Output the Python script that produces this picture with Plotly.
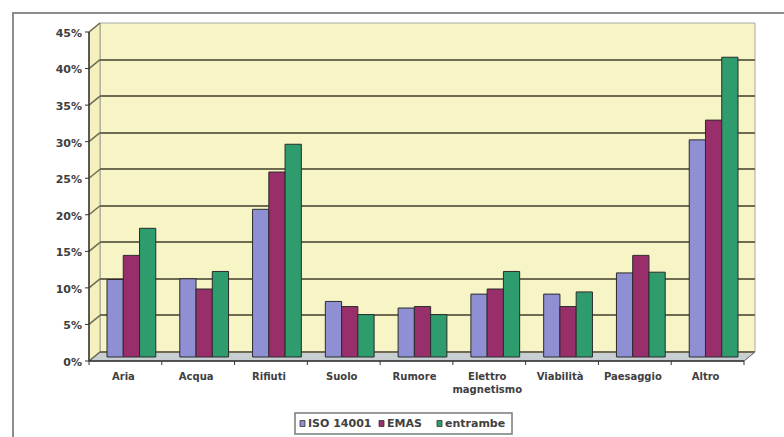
import plotly.graph_objects as go

# Environmental aspects and the share of organisations for each certification
categories = ["Aria", "Acqua", "Rifiuti", "Suolo", "Rumore",
              "Elettro<br>magnetismo", "Viabilità", "Paesaggio", "Altro"]
iso_14001 = [10.6, 10.7, 20.2, 7.6, 6.7, 8.6, 8.6, 11.5, 29.7]
emas = [13.9, 9.3, 25.3, 6.9, 6.9, 9.3, 6.9, 13.9, 32.4]
entrambe = [17.6, 11.7, 29.1, 5.8, 5.8, 11.7, 8.9, 11.6, 41.0]
series_names = ["ISO 14001", "EMAS", "entrambe"]
y_ticks = [0, 5, 10, 15, 20, 25, 30, 35, 40, 45]

W, H = 784, 437
# back wall box (pixels) and 3-D depth offset of the front edge
BL, BR, BT, BB = 100, 755, 23, 352
DX, DY = 11, 9
FL, FB = BL - DX, BB + DY
Y_MAX = 45.0
PX_PER_UNIT = (BB - BT) / Y_MAX
# the bars stand half way into the depth: this many pixels lower / further left
MID_DY, MID_DX = 5, 5


def px(x):
    return x / W


def py(y):
    return 1 - y / H


def y_back(v):
    return BB - v * PX_PER_UNIT


n = len(categories)
cat_w = (BR - BL) / n
bar_dy = MID_DY / PX_PER_UNIT
bar_dx = MID_DX / cat_w
y_lo = -(FB - BB - MID_DY) / PX_PER_UNIT
y_hi = (BB + MID_DY - BT) / PX_PER_UNIT

colors = ["#8f8fd4", "#992f6a", "#2f9c6e"]
fig = go.Figure()
for name, vals, col in zip(series_names, [iso_14001, emas, entrambe], colors):
    fig.add_trace(go.Bar(
        x=categories, y=vals, name=name, showlegend=False,
        marker=dict(color=col, line=dict(color="#2b2b2b", width=1)),
    ))

shapes = []
# outer chart frame
shapes.append(dict(type="rect", xref="paper", yref="paper", layer="below",
                   x0=px(13), y0=py(460), x1=px(810), y1=py(13),
                   line=dict(color="#8c8c8c", width=2), fillcolor="white"))
# back wall
shapes.append(dict(type="rect", xref="paper", yref="paper", layer="below",
                   x0=px(BL), y0=py(BB), x1=px(BR), y1=py(BT),
                   line=dict(color="#a8a8a0", width=1), fillcolor="#f7f4c6"))
# left wall
shapes.append(dict(type="path", xref="paper", yref="paper", layer="below",
                   path=f"M {px(FL)} {py(FB)} L {px(BL)} {py(BB)} L {px(BL)} {py(BT)} "
                        f"L {px(FL)} {py(BT + DY)} Z",
                   line=dict(color="#9a9a90", width=1), fillcolor="#f4f1bf"))
# floor
shapes.append(dict(type="path", xref="paper", yref="paper", layer="below",
                   path=f"M {px(FL)} {py(FB)} L {px(BL)} {py(BB)} L {px(BR)} {py(BB)} "
                        f"L {px(BR - DX)} {py(FB)} Z",
                   line=dict(color="#808080", width=1), fillcolor="#c8ced2"))
# left-wall grid diagonals and front tick marks
for v in y_ticks:
    yb = y_back(v)
    shapes.append(dict(type="line", xref="paper", yref="paper",
                       x0=px(FL), y0=py(yb + DY), x1=px(BL), y1=py(yb),
                       line=dict(color="#6f6b52", width=1.5)))
    shapes.append(dict(type="line", xref="paper", yref="paper",
                       x0=px(FL - 4), y0=py(yb + DY), x1=px(FL), y1=py(yb + DY),
                       line=dict(color="#333333", width=1)))
# front axis lines
shapes.append(dict(type="line", xref="paper", yref="paper",
                   x0=px(FL), y0=py(BT + DY), x1=px(FL), y1=py(FB),
                   line=dict(color="#333333", width=1.5)))
shapes.append(dict(type="line", xref="paper", yref="paper",
                   x0=px(FL), y0=py(FB), x1=px(BR - DX), y1=py(FB),
                   line=dict(color="#333333", width=1.5)))
shapes.append(dict(type="line", xref="paper", yref="paper",
                   x0=px(BR - DX), y0=py(FB), x1=px(BR), y1=py(BB),
                   line=dict(color="#808080", width=1)))
for k in range(n + 1):
    xf = BL + k * cat_w - DX
    shapes.append(dict(type="line", xref="paper", yref="paper",
                       x0=px(xf), y0=py(FB), x1=px(xf), y1=py(FB + 4),
                       line=dict(color="#333333", width=1)))

# legend box below the chart: colour keys and series names
LEG_L, LEG_R, LEG_T, LEG_B = 295, 512, 413, 434
leg_key_x = [300, 379, 437]
shapes.append(dict(type="rect", xref="paper", yref="paper",
                   x0=px(LEG_L), y0=py(LEG_B), x1=px(LEG_R), y1=py(LEG_T),
                   line=dict(color="#7a7a7a", width=1.5), fillcolor="white"))
leg_mid = (LEG_T + LEG_B) / 2
annotations = []
for name, col, kx in zip(series_names, colors, leg_key_x):
    shapes.append(dict(type="rect", xref="paper", yref="paper",
                       x0=px(kx), y0=py(leg_mid + 3), x1=px(kx + 5), y1=py(leg_mid - 3),
                       line=dict(color="#333333", width=0.8), fillcolor=col))
    annotations.append(dict(text=name, xref="paper", yref="paper",
                            x=px(kx + 6), y=py(leg_mid), xanchor="left", yanchor="middle",
                            showarrow=False,
                            font=dict(family="DejaVu Sans", size=11, weight="bold",
                                      color="#404040")))

tick_font = dict(family="DejaVu Sans", size=10, weight="bold", color="#404040")
ytick_font = dict(family="DejaVu Sans", size=11, weight="bold", color="#404040")

fig.update_layout(
    width=W, height=H, autosize=False,
    margin=dict(l=0, r=0, t=0, b=0, pad=0),
    paper_bgcolor="white", plot_bgcolor="rgba(0,0,0,0)",
    font=tick_font,
    barmode="group", bargap=0.33, bargroupgap=0,
    shapes=shapes, annotations=annotations,
    showlegend=False,
    xaxis=dict(domain=[px(BL), px(BR)], type="category",
               range=[-0.5 + bar_dx, n - 0.5 + bar_dx], automargin=False,
               showgrid=False, zeroline=False, showline=False, ticks="",
               ticklabelshift=-8, ticklabelstandoff=8, tickfont=tick_font,
               fixedrange=True),
    # grid lines sit on the back wall, i.e. MID_DY pixels above the bar scale
    yaxis=dict(domain=[py(FB), py(BT)], range=[y_lo, y_hi], automargin=False,
               tickvals=[v + bar_dy for v in y_ticks],
               ticktext=[f"{v}%" for v in y_ticks],
               showgrid=True, gridcolor="#6f6b52", gridwidth=2, zeroline=False,
               showline=False, ticks="", ticklabelshift=DY + 1,
               ticklabelstandoff=BL - 83, tickfont=ytick_font, fixedrange=True),
)

fig.write_html("out.html")
